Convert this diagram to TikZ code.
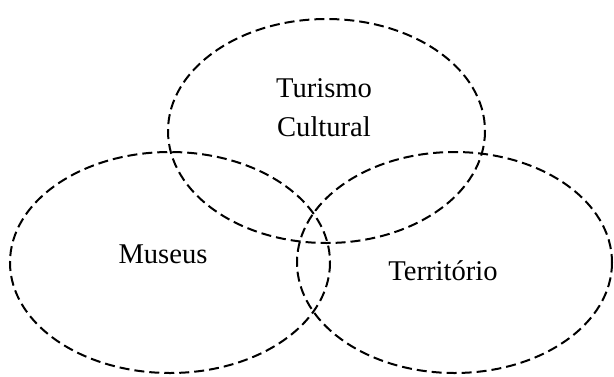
\documentclass[tikz,border=0pt]{standalone}
\usepackage{fontspec}
\setmainfont{Liberation Serif}
\tikzset{
	circ/.style={line width=2pt,dash pattern=on 10pt off 5pt},
	lbl/.style={font=\fontsize{28.6}{39}\selectfont,align=center,inner sep=0pt}
}
\begin{document}
\begin{tikzpicture}[x=1pt,y=-1pt]
			\useasboundingbox (0,0) rectangle (614,376);
			
			\draw[circ] (326.5,131) ellipse (158.5 and 112);
			\draw[circ] (170,262.5) ellipse (160 and 110.5);
			\draw[circ] (454.5,262.5) ellipse (157.5 and 110.5);
			
			\node[lbl] (T) at (324,108) {Turismo\\Cultural};
			\node[lbl,anchor=base] (M) at (163,263) {Museus};
			\node[lbl,anchor=base] (R) at (443,280) {Território};
			\end{tikzpicture}
\end{document}
